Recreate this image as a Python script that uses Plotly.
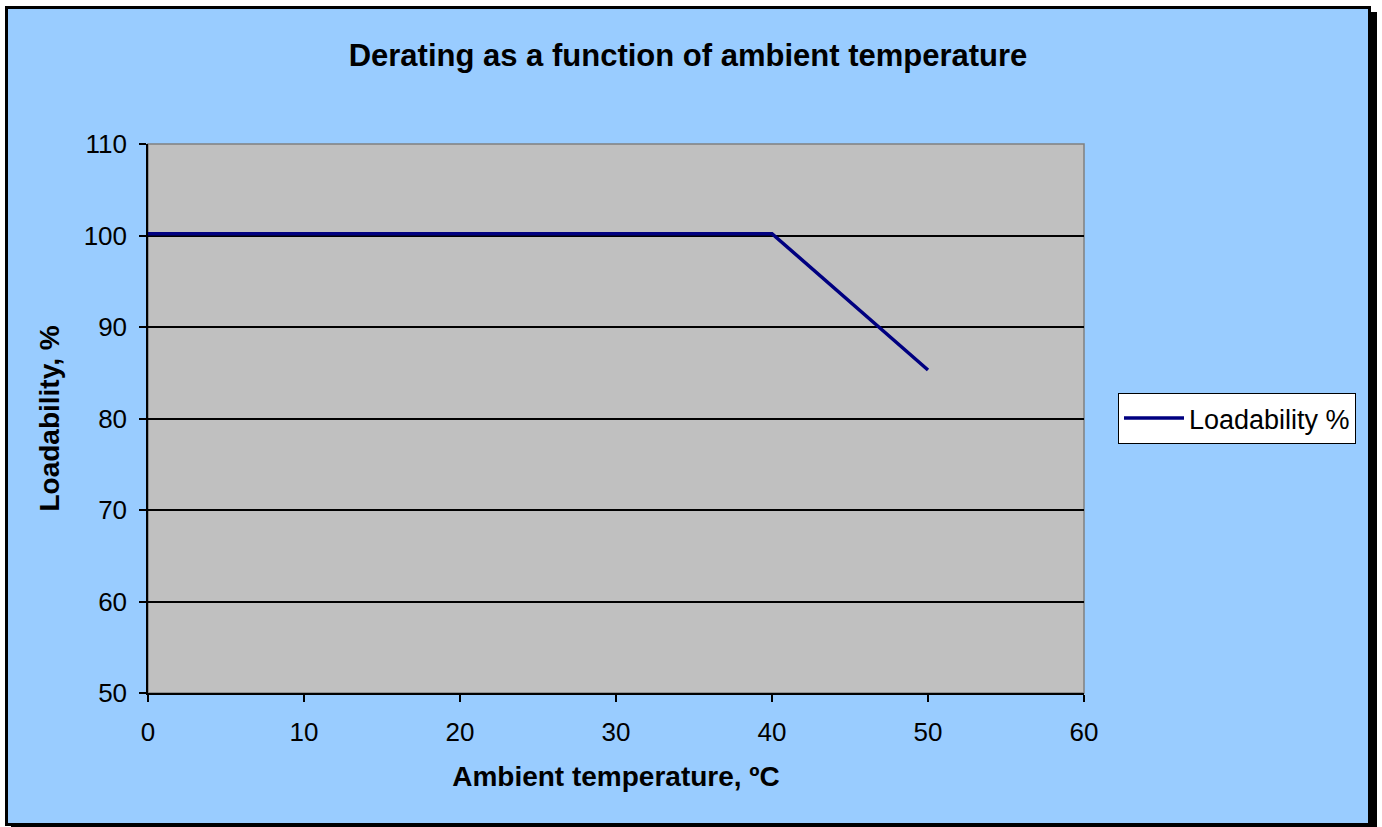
import plotly.graph_objects as go

temperature = [0, 40, 50]
loadability = [100.2, 100.2, 85.3]
x_ticks = [0, 10, 20, 30, 40, 50, 60]
y_ticks = [50, 60, 70, 80, 90, 100, 110]

W, H = 1382, 827
L, R, T, B = 148, 1084, 144, 693
PW, PH = R - L, B - T


def px(x):
    return (x - L) / PW


def py(y):
    return (B - y) / PH


fig = go.Figure()
fig.add_trace(go.Scatter(x=temperature, y=loadability, mode="lines",
                         name="Loadability %",
                         line=dict(color="#000080", width=3.5)))

shapes = [
    # shadow
    dict(type="rect", xref="paper", yref="paper", layer="below",
         x0=px(11), x1=px(1377), y0=py(830), y1=py(12),
         fillcolor="black", line=dict(width=0)),
    # blue chart area with border
    dict(type="rect", xref="paper", yref="paper", layer="below",
         x0=px(6.5), x1=px(1369.5), y0=py(824.5), y1=py(7.5),
         fillcolor="#99CCFF", line=dict(color="black", width=3)),
    # grey plot area
    dict(type="rect", xref="paper", yref="paper", layer="below",
         x0=0, x1=1, y0=0, y1=1,
         fillcolor="#C0C0C0", line=dict(color="#808080", width=1.5)),
]

fig.update_layout(
    width=W, height=H,
    margin=dict(l=L, r=W - R, t=T, b=H - B, pad=0, autoexpand=False),
    paper_bgcolor="white",
    plot_bgcolor="rgba(0,0,0,0)",
    font=dict(family="Liberation Sans, Arial, sans-serif", size=26, color="black"),
    title=dict(text="<b>Derating as a function of ambient temperature</b>",
               x=px(688), xref="paper", xanchor="center",
               y=1 - 55 / H, yanchor="middle",
               font=dict(size=31)),
    showlegend=True,
    legend=dict(x=px(1118), y=py(393), xanchor="left", yanchor="top",
                bgcolor="white", bordercolor="black", borderwidth=1,
                itemwidth=60, font=dict(size=27)),
    shapes=shapes,
)
fig.update_xaxes(range=[0, 60], tickvals=x_ticks, ticktext=[str(v) for v in x_ticks],
                 showgrid=False, zeroline=False, showline=True, linecolor="black",
                 linewidth=1.5, ticks="outside", ticklen=7, tickcolor="black",
                 tickwidth=1.5, ticklabelstandoff=8, automargin=False,
                 tickfont=dict(size=26),
                 title=dict(text="<b>Ambient temperature, ºC</b>", font=dict(size=28),
                            standoff=20))
fig.update_yaxes(range=[50, 110], tickvals=y_ticks, ticktext=[str(v) for v in y_ticks],
                 showgrid=True, gridcolor="black", gridwidth=1.5, zeroline=False,
                 showline=True, linecolor="black", linewidth=1.5,
                 ticks="outside", ticklen=7, tickcolor="black", tickwidth=1.5,
                 ticklabelstandoff=7, automargin=False,
                 tickfont=dict(size=26),
                 title=dict(text="<b>Loadability, %</b>", font=dict(size=28),
                            standoff=16))

fig.write_html("out.html", config={"displayModeBar": False},
               post_script="document.body.style.margin='0';")
